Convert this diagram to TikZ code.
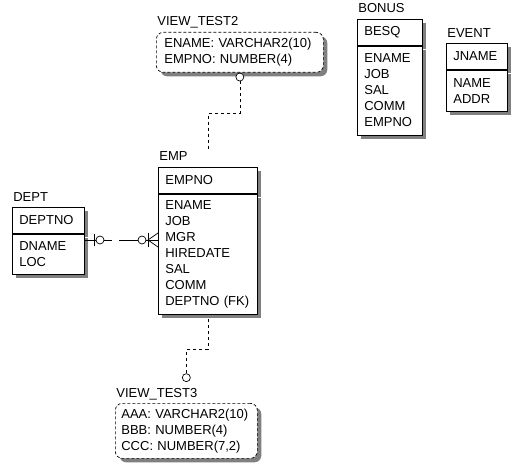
\documentclass[tikz,border=0pt]{standalone}
\usepackage{fontspec}
\setmainfont{Liberation Sans}
\usetikzlibrary{
	positioning,  %定位
	calc,         %计算
	shadows       %阴影
}
\tikzset{
	every picture/.style={
		>=latex, x=1pt, y=-1pt,
		line width=0.7pt
	},
	ershadow/.style={drop shadow={shadow xshift=4pt, shadow yshift=-4pt, fill=black!50, opacity=1}},
	tbl/.style={draw, fill=white, anchor=north west, align=left,
		inner xsep=7pt, inner ysep=0pt, ershadow,
		font=\fontsize{13}{16}\selectfont},
	viewbox/.style={tbl, dash pattern=on 3pt off 2pt, rounded corners=7pt, inner xsep=8pt},
	tbltitle/.style={anchor=base west, inner sep=0pt, font=\fontsize{13}{16}\selectfont},
	optc/.style={circle, draw, fill=white, inner sep=0pt, minimum size=8pt},
	conn/.style={dash pattern=on 3pt off 3pt}
}
\begin{document}
\begin{tikzpicture}
\useasboundingbox (0,0) rectangle (522,473);
% 视图 VIEW_TEST2
\node[viewbox, text width=151pt, minimum height=40pt] (vt2) at (156,32) {ENAME: VARCHAR2(10)\\EMPNO: NUMBER(4)};
\node[tbltitle] at ([xshift=1pt,yshift=6pt]vt2.north west) {VIEW\_TEST2};
% 表 BONUS
\node[tbl, text width=51pt, minimum height=26pt] (bonhead) at (357,19) {BESQ};
\node[tbl, text width=51pt, minimum height=89pt] (bonbody) at (bonhead.south west) {ENAME\\JOB\\SAL\\COMM\\EMPNO};
\node[tbltitle] at ([xshift=1pt,yshift=6pt]bonhead.north west) {BONUS};
% 表 EVENT
\node[tbl, text width=47pt, minimum height=26pt] (evthead) at (446,43) {JNAME};
\node[tbl, text width=47pt, minimum height=41pt] (evtbody) at (evthead.south west) {NAME\\ADDR};
\node[tbltitle] at ([xshift=1pt,yshift=5pt]evthead.north west) {EVENT};
% 表 EMP
\node[tbl, text width=85pt, minimum height=26pt] (emphead) at (158,167) {EMPNO};
\node[tbl, text width=85pt, minimum height=120pt] (empbody) at (emphead.south west) {ENAME\\JOB\\MGR\\HIREDATE\\SAL\\COMM\\DEPTNO (FK)};
\node[tbltitle] at ([xshift=1pt,yshift=6pt]emphead.north west) {EMP};
% 表 DEPT
\node[tbl, text width=58pt, minimum height=26pt] (dephead) at (12,207) {DEPTNO};
\node[tbl, text width=58pt, minimum height=40pt] (depbody) at (dephead.south west) {DNAME\\LOC};
\node[tbltitle] at ([xshift=1pt,yshift=5pt]dephead.north west) {DEPT};
% 视图 VIEW_TEST3
\node[viewbox, text width=130pt, minimum height=55pt, inner xsep=6pt] (vt3) at (115,403) {AAA: VARCHAR2(10)\\BBB: NUMBER(4)\\CCC: NUMBER(7,2)};
\node[tbltitle] at ([xshift=1pt,yshift=6pt]vt3.north west) {VIEW\_TEST3};

% 视图与 EMP 的连线
\node[optc, below=0pt of vt2] (o2) {};
\coordinate (e2) at (208,150);
\draw[conn] (o2.south) -- ++(0,32) -| (e2);
\node[optc, above=21pt of vt3] (o3) {};
\draw[conn] ([yshift=-5pt]empbody.south) -- ++(0,30) -| (o3);

% DEPT 与 EMP 的关系
\coordinate (d1) at (84,240);
\coordinate (e1) at (158,240);
\draw (d1) -- ++(28,0);
\draw ($(e1)+(-39,0)$) -- (e1);
\draw ($(d1)+(10,-6)$) -- ++(0,12);
\node[optc] (c1) at ($(d1)+(16,0)$) {};
\node[optc] (c2) at ($(e1)+(-16,0)$) {};
\draw ($(e1)+(-10,-7)$) -- ++(0,14);
\draw ($(e1)+(0,-7)$) -- ($(e1)+(-10,0)$) -- ($(e1)+(0,7)$);
\end{tikzpicture}
\end{document}
